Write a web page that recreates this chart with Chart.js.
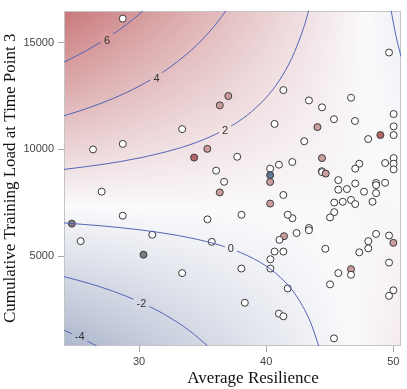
<!DOCTYPE html>
<html>
<head>
<meta charset="utf-8">
<script src="https://cdn.jsdelivr.net/npm/chart.js@4/dist/chart.umd.min.js"></script>
<style>
  html, body { margin: 0; padding: 0; background: #fff; }
</style>
</head>
<body>
<canvas id="chart-contour" width="407" height="389"></canvas>
<script>
// resilience x training load, predicted outcome surface + observations

// observed points
const resilience = [28.72, 33.39, 28.72, 26.38, 34.33, 35.37, 27.06, 49.66, 41.35, 37.02, 36.35, 43.36, 46.67, 44.39, 50.02, 45.33, 46.98, 40.66, 44.03, 50.02,
  50.02, 48.98, 48.02, 42.99, 37.72, 44.39, 50.02, 50.02, 50.02, 49.35, 47.32, 47.0, 42.05, 41.0, 36.06, 40.31, 40.31, 40.31, 44.37, 44.40,
  44.68, 36.69, 36.35, 41.35, 45.67, 47.0, 45.67, 46.35, 47.69, 48.64, 48.64, 49.35, 48.64, 48.36, 46.67, 47.0, 46.02, 45.35, 45.35, 45.02,
  42.06, 41.69, 40.31, 38.06, 35.38, 42.39, 43.36, 43.36, 41.40, 41.04, 35.72, 40.66, 41.35, 40.33, 38.05, 40.33, 41.69, 38.32, 41.0, 41.35,
  45.33, 44.65, 45.67, 45.02, 46.67, 46.67, 47.32, 48.03, 48.03, 48.64, 49.66, 50.0, 49.66, 50.0, 49.66, 24.72, 25.41, 28.72, 31.04, 30.35, 33.39];
const trainingLoad = [16125, 10954, 10259, 10000, 9620, 10028, 8023, 14537, 12778, 12500, 12065, 12296, 12421, 11972, 11658, 11417, 11333, 11195, 11046, 11079,
  10676, 10676, 10486, 10384, 9657, 9597, 9597, 9333, 9065, 9366, 9333, 9102, 9412, 9287, 9009, 9102, 8796, 8477, 8981, 8940,
  8870, 8486, 7991, 7870, 8565, 8407, 8116, 8148, 8023, 8430, 8330, 8440, 7954, 7551, 7639, 7444, 7551, 7514, 7065, 6819,
  6782, 6944, 7467, 6944, 6727, 6088, 6324, 6220, 5940, 5768, 5676, 5222, 5222, 4861, 4426, 4426, 3495, 2824, 2314, 2189,
  1157, 5351, 4213, 3685, 4398, 4134, 5185, 5370, 5708, 6046, 5972, 5629, 4703, 3407, 3148, 6528, 5708, 6898, 6009, 5074, 4213];
// outcome shade of each point: o = near 0, p = positive, r = high, b = negative, g/m = greyish
const outcomeShade = ['o','o','o','o','r','p','o','o','o','p','p','o','o','o','o','o','o','o','p','o',
  'o','r','o','o','o','p','o','o','o','o','o','o','o','o','o','o','b','p','o','o',
  'p','o','p','o','o','o','o','o','o','o','o','o','o','o','o','o','o','o','o','o',
  'o','o','p','o','o','o','o','o','p','o','o','o','o','o','o','o','o','o','o','o',
  'o','o','o','o','p','o','o','o','o','o','o','p','o','o','o','m','o','o','o','g','o'];

// predicted surface at the corners of the plotted region (bilinear model)
const surfaceX = [24.1, 50.6];
const surfaceY = [800, 16500];
const surfaceZ = [[-4.59, 1.48], [7.92, -0.23]];

// contour lines [resilience, load]
const contour6 = [[24.1, 14088], [25, 14353], [26, 14673], [27, 15025], [28, 15412], [29, 15842], [30, 16322], [30.34, 16500]];
const contour4 = [[24.1, 11577], [26, 11939], [28, 12397], [30, 12960], [32, 13669], [34, 14590], [35, 15161], [36, 15833], [36.84, 16500]];
const contour2 = [[24.1, 9067], [27, 9289], [30, 9598], [33, 10035], [35, 10444], [37, 11010], [38.5, 11601], [40, 12432], [41, 13203], [42, 14259], [43, 15795], [43.34, 16500]];
const contour0 = [[24.1, 6560], [27, 6426], [30, 6241], [33, 5979], [36, 5579], [38, 5170], [40, 4541], [41.5, 3788], [42.5, 3031], [43.5, 1885], [44.13, 800]];
const contour0b = [[49.83, 16500], [50, 15923], [50.2, 15321], [50.6, 14344]];
const contourM2 = [[24.1, 4049], [26, 3743], [28, 3356], [30, 2879], [32, 2279], [34, 1500], [35.4, 800]];
const contourM4 = [[24.1, 1539], [25, 1299], [26, 1009], [26.67, 800]];

const labelText = ['6', '4', '2', '0', '-2', '-4'];
const labelX = [27.48, 31.37, 36.77, 37.22, 30.19, 25.33];
const labelY = [15121, 13330, 10907, 5370, 2805, 1231];

const xTicks = [30, 40, 50];
const yTicks = [5000, 10000, 15000];
const xTitle = 'Average Resilience';
const yTitle = 'Cumulative Training Load at Time Point 3';

// ---------------------------------------------------------------

function surfaceAt(xv, yv) {
  const tx = (xv - surfaceX[0]) / (surfaceX[1] - surfaceX[0]);
  const ty = (yv - surfaceY[0]) / (surfaceY[1] - surfaceY[0]);
  return surfaceZ[0][0] * (1 - tx) * (1 - ty) + surfaceZ[0][1] * tx * (1 - ty)
       + surfaceZ[1][0] * (1 - tx) * ty + surfaceZ[1][1] * tx * ty;
}

const colorStops = [[-4.6, [172, 182, 204]], [0.6, [250, 250, 252]], [8, [200, 118, 120]]];
function surfaceColor(z) {
  if (z <= colorStops[0][0]) return colorStops[0][1];
  for (let i = 1; i < colorStops.length; i++) {
    const [z1, c1] = colorStops[i];
    if (z <= z1) {
      const [z0, c0] = colorStops[i - 1];
      const t = (z - z0) / (z1 - z0);
      return [0, 1, 2].map(k => c0[k] + (c1[k] - c0[k]) * t);
    }
  }
  return colorStops[colorStops.length - 1][1];
}

const surfacePlugin = {
  id: 'surface',
  beforeDatasetsDraw(chart) {
    const { ctx, chartArea: a, scales: { x, y } } = chart;
    const left = Math.round(a.left), top = Math.round(a.top);
    const w = Math.round(a.right) - left, h = Math.round(a.bottom) - top;
    const img = ctx.createImageData(w, h);
    for (let j = 0; j < h; j++) {
      const yv = y.getValueForPixel(top + j + 0.5);
      for (let i = 0; i < w; i++) {
        const xv = x.getValueForPixel(left + i + 0.5);
        const c = surfaceColor(surfaceAt(xv, yv));
        const p = (j * w + i) * 4;
        img.data[p] = c[0]; img.data[p + 1] = c[1]; img.data[p + 2] = c[2]; img.data[p + 3] = 255;
      }
    }
    ctx.putImageData(img, left, top);
    // frame
    ctx.save();
    ctx.strokeStyle = '#c4c4c4';
    ctx.lineWidth = 1;
    ctx.strokeRect(left + 0.5, top + 0.5, w - 1, h - 1);
    ctx.restore();
  },
  afterDatasetsDraw(chart) {
    const { ctx, scales: { x, y } } = chart;
    ctx.save();
    ctx.font = '11px "Liberation Sans", Arial, sans-serif';
    ctx.textAlign = 'center';
    ctx.textBaseline = 'middle';
    labelText.forEach((t, i) => {
      const px = x.getPixelForValue(labelX[i]);
      const py = y.getPixelForValue(labelY[i]);
      const c = surfaceColor(surfaceAt(labelX[i], labelY[i]));
      const tw = ctx.measureText(t).width + 6;
      ctx.fillStyle = `rgb(${c.map(Math.round).join(',')})`;
      ctx.fillRect(px - tw / 2, py - 6, tw, 12);
      ctx.fillStyle = '#333';
      ctx.fillText(t, px, py + 0.5);
    });
    ctx.restore();
  },
  afterDraw(chart) {
    // x title sits right of the plot centre in the original
    const { ctx } = chart;
    ctx.save();
    ctx.font = '17px "Liberation Serif", "Times New Roman", serif';
    ctx.fillStyle = '#111';
    ctx.textAlign = 'center';
    ctx.textBaseline = 'middle';
    ctx.fillText(xTitle, 253, 379);
    ctx.restore();
  }
};

const shadeColors = { o: '#ffffff', p: '#cc9d9d', r: '#b56666', b: '#5d7796', g: '#7b7b80', m: '#8a7886' };

function contourSet(pts) {
  return {
    type: 'line',
    data: pts.map(p => ({ x: p[0], y: p[1] })),
    borderColor: '#5464b6',
    borderWidth: 1,
    pointRadius: 0,
    cubicInterpolationMode: 'monotone',
    fill: false
  };
}

new Chart(document.getElementById('chart-contour'), {
  type: 'scatter',
  data: {
    datasets: [
      contourSet(contour6), contourSet(contour4), contourSet(contour2),
      contourSet(contour0), contourSet(contour0b), contourSet(contourM2), contourSet(contourM4),
      {
        type: 'scatter',
        data: resilience.map((v, i) => ({ x: v, y: trainingLoad[i] })),
        pointRadius: 3.5,
        pointBorderWidth: 1,
        pointBorderColor: '#3a3a3a',
        pointBackgroundColor: outcomeShade.map(s => shadeColors[s])
      }
    ]
  },
  options: {
    responsive: false,
    animation: false,
    layout: { padding: { top: 7, right: 6, left: 0, bottom: 0 } },
    plugins: { legend: { display: false }, tooltip: { enabled: false } },
    scales: {
      x: {
        type: 'linear', min: 24.1, max: 50.6,
        afterBuildTicks: s => { s.ticks = xTicks.map(v => ({ value: v })); },
        afterFit: s => { s.height = 43; },
        grid: { drawOnChartArea: false, drawTicks: true, tickLength: 6, color: '#aaa' },
        border: { display: false },
        ticks: { color: '#444', padding: 3, font: { family: 'Liberation Sans', size: 11 } },
        title: { display: false, text: xTitle }
      },
      y: {
        type: 'linear', min: 800, max: 16500,
        afterBuildTicks: s => { s.ticks = yTicks.map(v => ({ value: v })); },
        afterFit: s => { s.width = 64; },
        grid: { drawOnChartArea: false, drawTicks: true, tickLength: 6, color: '#aaa' },
        border: { display: false },
        ticks: { color: '#444', padding: 4, callback: v => String(v), font: { family: 'Liberation Sans', size: 11 } },
        title: { display: true, text: yTitle, color: '#111', padding: 0,
          font: { family: 'Liberation Serif', size: 17 } }
      }
    }
  },
  plugins: [surfacePlugin]
});
</script>
</body>
</html>
